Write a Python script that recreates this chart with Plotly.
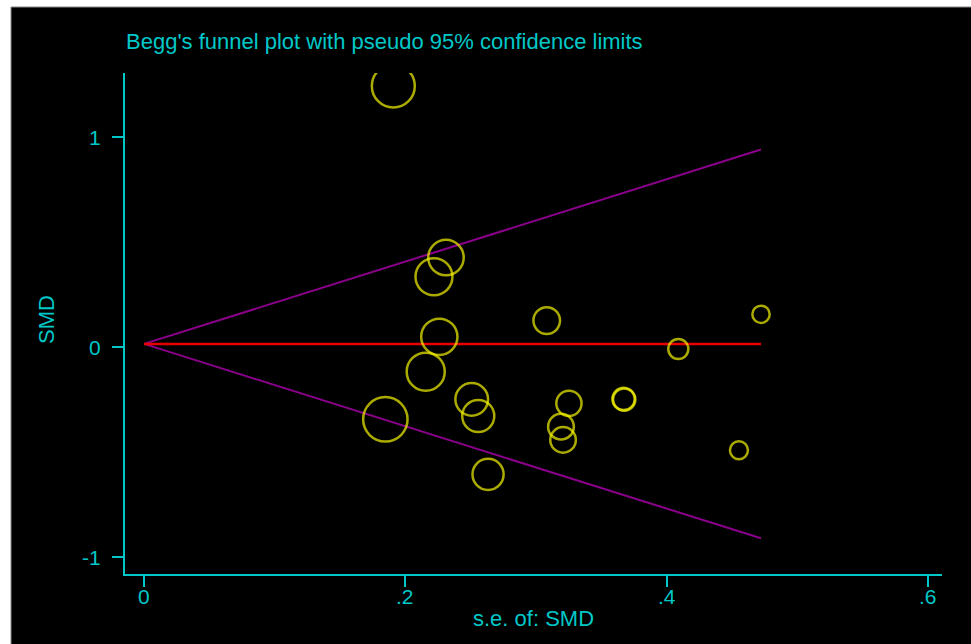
import plotly.graph_objects as go

# ---- data ----
se = [0.1908, 0.2311, 0.2219, 0.2260, 0.2156, 0.1847, 0.2508, 0.2558, 0.2633,
      0.3082, 0.3252, 0.3191, 0.3207, 0.3670, 0.3675, 0.4089, 0.4722, 0.4553]
smd = [1.244, 0.427, 0.336, 0.050, -0.116, -0.343, -0.248, -0.327, -0.605,
       0.127, -0.267, -0.378, -0.441, -0.246, -0.249, -0.008, 0.157, -0.490]
pooled = 0.016
z95 = 1.96

x_tickvals = [0, 0.2, 0.4, 0.6]
x_ticktext = ["0", ".2", ".4", ".6"]
y_tickvals = [-1, 0, 1]
y_ticktext = ["-1", "0", "1"]

title_text = "Begg's funnel plot with pseudo 95% confidence limits"
x_title = "s.e. of: SMD"
y_title = "SMD"

CYAN = "#00c8c8"
YELLOW = "#f2f200"
PURPLE = "#8a008a"
RED = "#e60000"
FONT = "Liberation Sans, Arial, sans-serif"

se_max = max(se)
sizes = [8.2 / s for s in se]

fig = go.Figure()

# funnel limits
fig.add_trace(go.Scatter(x=[0, se_max], y=[pooled, pooled + z95 * se_max], mode="lines",
                         line=dict(color=PURPLE, width=2), hoverinfo="skip", showlegend=False))
fig.add_trace(go.Scatter(x=[0, se_max], y=[pooled, pooled - z95 * se_max], mode="lines",
                         line=dict(color=PURPLE, width=2), hoverinfo="skip", showlegend=False))
# pooled estimate
fig.add_trace(go.Scatter(x=[0, se_max], y=[pooled, pooled], mode="lines",
                         line=dict(color=RED, width=2.5), hoverinfo="skip", showlegend=False))
# studies
fig.add_trace(go.Scatter(x=se, y=smd, mode="markers",
                         marker=dict(symbol="circle-open", size=sizes, color=YELLOW,
                                     line=dict(color=YELLOW, width=2.5)),
                         showlegend=False))

L, R, T, B = 125, 29, 73, 70
W, H = 971, 644
pw, ph = W - L - R, H - T - B

def px_x(p):
    return (p - L) / pw

def px_y(p):
    return (H - B - p) / ph

annotations = [
    dict(text=title_text, xref="paper", yref="paper", x=px_x(124), y=px_y(41),
         xanchor="left", yanchor="middle", showarrow=False,
         font=dict(family=FONT, color=CYAN, size=22)),
    dict(text=x_title, xref="paper", yref="paper", x=px_x(533), y=px_y(618),
         xanchor="center", yanchor="middle", showarrow=False,
         font=dict(family=FONT, color=CYAN, size=22)),
    dict(text=y_title, xref="paper", yref="paper", x=px_x(46), y=px_y(320),
         xanchor="center", yanchor="middle", showarrow=False, textangle=-90,
         font=dict(family=FONT, color=CYAN, size=22)),
]
# x tick labels placed on the x scale
for v, t in zip(x_tickvals, x_ticktext):
    annotations.append(dict(text=t, xref="x", yref="paper", x=v, y=px_y(596),
                            xanchor="center", yanchor="middle", showarrow=False,
                            font=dict(family=FONT, color=CYAN, size=21)))

fig.update_layout(
    width=W, height=H,
    margin=dict(l=L, r=R, t=T, b=B, pad=0),
    paper_bgcolor="white",
    plot_bgcolor="black",
    font=dict(family=FONT, color=CYAN, size=21),
    showlegend=False,
    xaxis=dict(range=[-0.01454, 0.6107], tickvals=x_tickvals, showticklabels=False,
               showgrid=False, zeroline=False, showline=True, linecolor=CYAN, linewidth=2,
               ticks="outside", ticklen=11, tickwidth=2, tickcolor=CYAN),
    yaxis=dict(range=[-1.0795, 1.306], tickvals=y_tickvals, ticktext=y_ticktext,
               showgrid=False, zeroline=False, showline=True, linecolor=CYAN, linewidth=2,
               ticks="outside", ticklen=11, tickwidth=2, tickcolor=CYAN,
               ticklabelstandoff=7,
               tickfont=dict(family=FONT, color=CYAN, size=21)),
    shapes=[dict(type="rect", xref="paper", yref="paper", layer="below",
                 x0=px_x(11), x1=px_x(975), y0=px_y(648), y1=px_y(7),
                 fillcolor="black", line=dict(color="#888888", width=1))],
    annotations=annotations,
)

fig.write_html("out.html", config={"displayModeBar": False},
               post_script="document.body.style.margin='0px';")
